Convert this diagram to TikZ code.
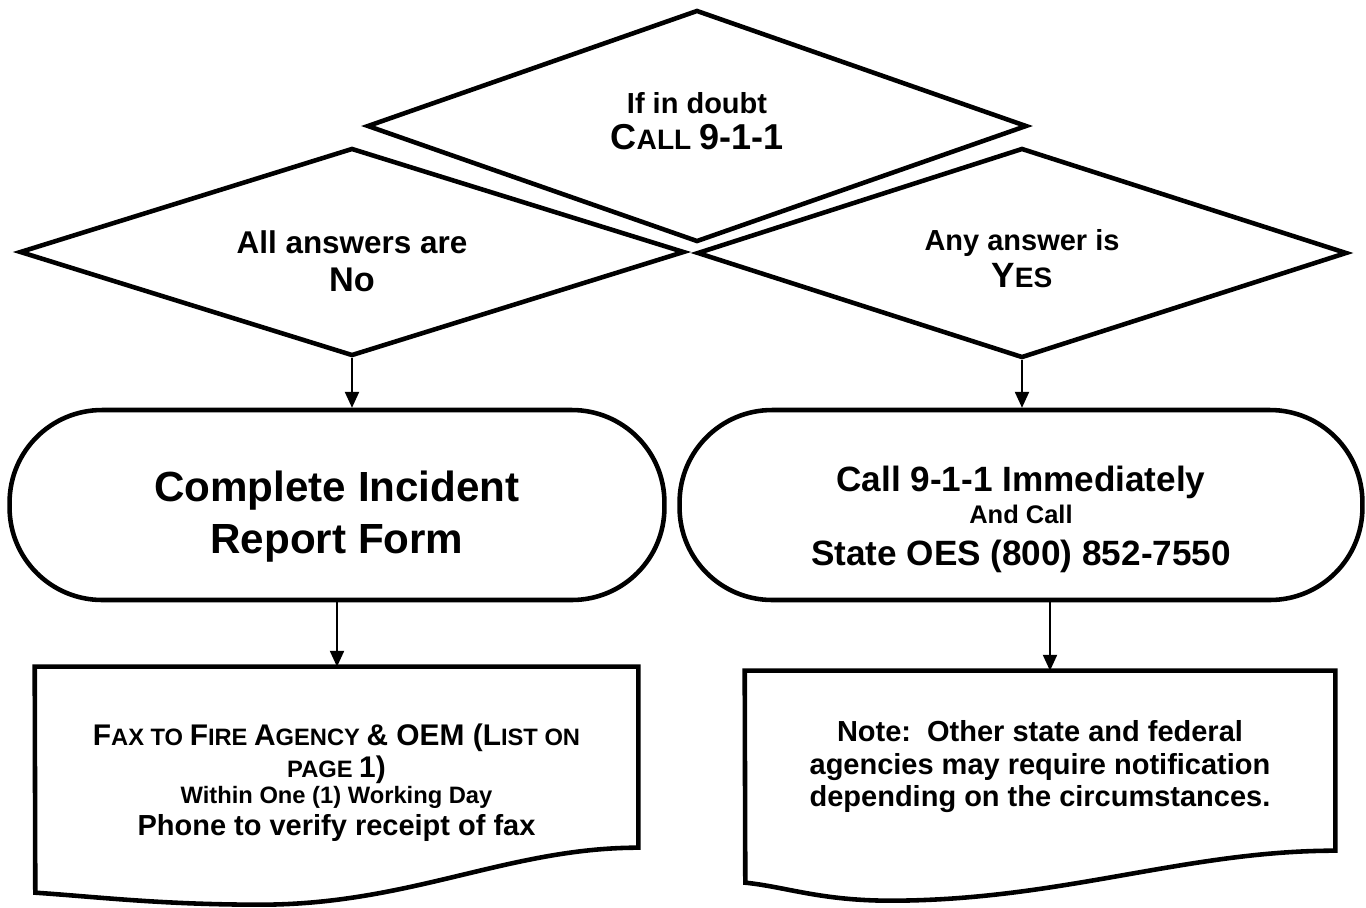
\documentclass[tikz,border=0pt]{standalone}
\usepackage{fontspec}
\setmainfont{Liberation Sans}
\usetikzlibrary{shapes.geometric,arrows.meta}

\newcommand{\fs}[2]{\fontsize{#1}{#2}\selectfont}

\begin{document}
\begin{tikzpicture}[x=0.02cm,y=-0.02cm,
		decision/.style={diamond,aspect=4,draw,line width=2.6pt,inner sep=0pt,align=center,text depth=0pt},
		terminal/.style={rectangle,draw,line width=2.6pt,rounded corners=1.85cm,align=center,text depth=0pt},
		docbox/.style={rectangle,inner sep=0pt,align=center,text depth=0pt},
		outline/.style={line width=2.6pt,line join=miter},
		arr/.style={-{Triangle[width=8pt,length=9pt]},line width=1pt}]
	\useasboundingbox[fill=white] (0,0) rectangle (1366,907);

	% decisions
	\node[decision,minimum width=13.2cm,minimum height=4.64cm,text height=27.2pt,
		font=\bfseries\fs{16.5}{21}] (doubt) at (697,126)
		{If in doubt\\\fs{20.5}{24}C\fs{16}{24}ALL \fs{20.5}{24}9-1-1};
	\node[decision,minimum width=13.3cm,minimum height=4.16cm,text height=45.4pt,
		font=\bfseries\fs{17.9}{22.1}] (no) at (352,252)
		{All answers are\\\fs{19.5}{22}No};
	\node[decision,minimum width=13cm,minimum height=4.2cm,text height=39.7pt,
		font=\bfseries\fs{16.5}{21.5}] (yes) at (1022,253)
		{Any answer is\\\fs{20}{22}Y\fs{16}{22}ES};

	% terminals
	\node[terminal,minimum width=13.1cm,minimum height=3.8cm,text height=55.6pt,
		font=\bfseries\fs{24}{30}] (report) at (337,505)
		{Complete Incident\\Report Form};
	\node[terminal,minimum width=13.66cm,minimum height=3.8cm,text height=69.2pt,
		font=\bfseries\fs{20}{18.7}] (call) at (1021,505)
		{Call 9-1-1 Immediately\\\fs{14.5}{18}And Call\\[5.1pt]State OES (800) 852-7550};

	% documents
	\node[docbox,minimum width=12.06cm,minimum height=4.52cm,text height=63.5pt,
		font=\bfseries\fs{16.5}{14.8}] (fax) at (336.5,780)
		{\fs{17}{21}F\fs{13.5}{21}AX TO \fs{17}{21}F\fs{13.5}{21}IRE \fs{17}{21}A\fs{13.5}{21}GENCY
		\fs{17}{21}\& OEM (L\fs{13.5}{21}IST ON\\[1.6pt]
		\fs{13.5}{19}PAGE \fs{17}{19}1)\\
		\fs{13.5}{16}Within One (1) Working Day\\[2.6pt]
		Phone to verify receipt of fax};
	\node[docbox,minimum width=11.8cm,minimum height=3.8cm,text height=46.5pt,
		font=\bfseries\fs{16.5}{18.6}] (note) at (1040,766)
		{Note:\ \ Other state and federal\\
		agencies may require notification\\
		depending on the circumstances.};
	\draw[outline] (fax.north west) -- (fax.north east) -- ++(0,181)
		.. controls +(-130,0) and +(150,0) .. ++(-378,57)
		.. controls +(-100,0) and +(60,4) .. ++(-225,-12) -- cycle;
	\draw[outline] (note.north west) -- (note.north east) -- ++(0,180)
		.. controls +(-150,0) and +(170,0) .. ++(-445,50)
		.. controls +(-70,0) and +(40,4) .. ++(-145,-18) -- cycle;

	% connectors
	\draw[arr] (no.south) -- (no.south |- report.north);
	\draw[arr] (yes.south) -- (yes.south |- call.north);
	\draw[arr] (report.south) -- (report.south |- fax.north);
	\draw[arr] ([xshift=0.2cm]note.north |- call.south) -- ([xshift=0.2cm]note.north);
\end{tikzpicture}
\end{document}
